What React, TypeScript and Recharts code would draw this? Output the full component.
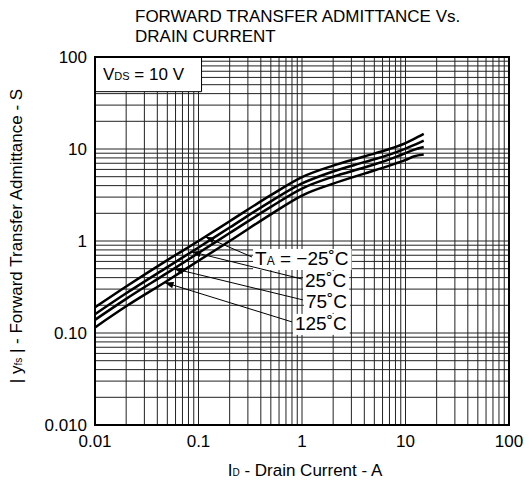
import React from 'react';
import {
  LineChart,
  Line,
  XAxis,
  YAxis,
  CartesianGrid,
  ReferenceArea,
  ReferenceLine,
} from 'recharts';

const FONT = '"Liberation Sans", Arial, Helvetica, sans-serif';

// Drain current (A) and |yfs| (S)
const drainCurrent = [0.01, 0.02, 0.05, 0.1, 0.2, 0.5, 1, 2, 4, 7, 10, 12, 15];
const yfsMinus25 = [0.19, 0.32, 0.62, 1.0, 1.64, 3.15, 4.95, 6.6, 8.3, 10.0, 11.6, 12.8, 14.6];
const yfs25 = [0.16, 0.27, 0.52, 0.85, 1.4, 2.7, 4.22, 5.7, 7.2, 8.7, 10.1, 11.0, 12.3];
const yfs75 = [0.139, 0.235, 0.45, 0.74, 1.22, 2.35, 3.72, 5.0, 6.3, 7.7, 9.0, 9.8, 10.5];
const yfs125 = [0.115, 0.195, 0.37, 0.61, 1.0, 1.95, 3.12, 4.2, 5.4, 6.6, 7.6, 8.3, 8.7];

const decades = [0.01, 0.1, 1, 10, 100];
const xTickLabels = ['0.01', '0.1', '1', '10', '100'];
const yTickLabels = ['0.010', '0.10', '1', '10', '100'];

// temperature callouts: arrow tip on the curve (x), label end point
const callouts = [
  { key: 'm25', tipX: 0.116, endX: 0.329, endY: 0.67, text: ['T', 'A', ' = \u221225\u02daC'] },
  { key: 't25', tipX: 0.086, endX: 1.0, endY: 0.386, text: ['', '', '25\u02daC'] },
  { key: 't75', tipX: 0.058, endX: 1.02, endY: 0.229, text: ['', '', '75\u02daC'] },
  { key: 't125', tipX: 0.047, endX: 0.8, endY: 0.132, text: ['', '', '125\u02daC'] },
];

const series = [
  { key: 'm25', values: yfsMinus25 },
  { key: 't25', values: yfs25 },
  { key: 't75', values: yfs75 },
  { key: 't125', values: yfs125 },
];

const table = drainCurrent.map((id, i) => {
  const row: Record<string, number> = { id };
  series.forEach((s) => (row[s.key] = s.values[i]));
  return row;
});

// minor log ticks 1..9 in every decade
const logTicks = decades
  .slice(0, -1)
  .flatMap((d) => [1, 2, 3, 4, 5, 6, 7, 8, 9].map((k) => +(d * k).toPrecision(3)))
  .concat([100]);

const decadeLabel = (labels: string[]) => (v: number) => {
  const i = decades.findIndex((d) => Math.abs(d - v) / d < 1e-6);
  return i >= 0 ? labels[i] : '';
};

// log-log interpolation on a curve to put the arrow tip on it
const onCurve = (values: number[], x: number) => {
  for (let i = 0; i < drainCurrent.length - 1; i++) {
    const a = drainCurrent[i];
    const b = drainCurrent[i + 1];
    if (x >= a && x <= b) {
      const t = (Math.log10(x) - Math.log10(a)) / (Math.log10(b) - Math.log10(a));
      return 10 ** (Math.log10(values[i]) + t * (Math.log10(values[i + 1]) - Math.log10(values[i])));
    }
  }
  return values[0];
};

let ctx: CanvasRenderingContext2D | null = null;
const textWidth = (s: string, size: number) => {
  if (!ctx) ctx = document.createElement('canvas').getContext('2d');
  if (!ctx) return s.length * size * 0.55;
  ctx.font = `${size}px "Liberation Sans", Arial`;
  return ctx.measureText(s).width;
};

const Callout = (props: any) => {
  const { x1, y1, x2, y2, text } = props;
  const ang = Math.atan2(y1 - y2, x1 - x2);
  const len = 9;
  const hw = 3.2;
  const bx = x1 - len * Math.cos(ang);
  const by = y1 - len * Math.sin(ang);
  const px = -Math.sin(ang) * hw;
  const py = Math.cos(ang) * hw;
  const w = textWidth(text[0], 19) + textWidth(text[1], 12) + textWidth(text[2], 19);
  const tx = x2 + 3;
  const ty = y2 + 8;
  return (
    <g>
      <rect x={tx - 2} y={ty - 16} width={w + 5} height={21} fill="#fff" />
      <line x1={x1} y1={y1} x2={x2} y2={y2} stroke="#000" strokeWidth={1} />
      <polygon points={`${x1},${y1} ${bx + px},${by + py} ${bx - px},${by - py}`} fill="#000" />
      <text x={tx} y={ty} fontSize={19} fontFamily={FONT} fill="#000">
        {text[0]}
        {text[1] && <tspan fontSize={12}>{text[1]}</tspan>}
        <tspan>{text[2]}</tspan>
      </text>
    </g>
  );
};

const VdsLabel = (props: any) => {
  const { x, y, height } = props.viewBox;
  return (
    <text x={x + 8} y={y + height / 2 + 6} fontSize={17} fontFamily={FONT} fill="#000">
      V<tspan fontSize={11}>DS</tspan>
      <tspan> = 10 V</tspan>
    </text>
  );
};

const XTitle = (props: any) => {
  const { x, y, width } = props.viewBox;
  return (
    <text x={x + width / 2 + 3} y={y + 51} textAnchor="middle" fontSize={17} fontFamily={FONT} fill="#000">
      I<tspan fontSize={10}>D</tspan>
      <tspan> - Drain Current - A</tspan>
    </text>
  );
};

const YTitle = (props: any) => {
  const { y, height } = props.viewBox;
  const cx = 22;
  const cy = y + height / 2 - 5;
  return (
    <text
      x={cx}
      y={cy}
      transform={`rotate(-90 ${cx} ${cy})`}
      textAnchor="middle"
      fontSize={17}
      fontFamily={FONT}
      fill="#000"
    >
      | y<tspan fontSize={10}>fs</tspan>
      <tspan> | - Forward Transfer Admittance - S</tspan>
    </text>
  );
};

const App = () => {
  return (
    <div style={{ position: 'absolute', left: 0, top: 0, width: 532, height: 491, fontFamily: FONT }}>
      <div style={{ position: 'absolute', left: 135, top: 7, fontSize: 17, lineHeight: '20px', color: '#000' }}>
        FORWARD TRANSFER ADMITTANCE Vs.
        <br />
        DRAIN CURRENT
      </div>
      <LineChart width={532} height={491} data={table} margin={{ top: 57, right: 23, bottom: 0, left: 0 }}>
        <CartesianGrid stroke="#222" strokeWidth={1} />
        <XAxis
          dataKey="id"
          type="number"
          scale="log"
          domain={[0.01, 100]}
          ticks={logTicks}
          interval={0}
          tickFormatter={decadeLabel(xTickLabels)}
          tickLine={false}
          axisLine={false}
          tickMargin={4}
          height={66}
          tick={{ fill: '#000', fontSize: 17, fontFamily: FONT }}
          allowDataOverflow
          label={<XTitle />}
        />
        <YAxis
          type="number"
          scale="log"
          domain={[0.01, 100]}
          ticks={logTicks}
          interval={0}
          tickFormatter={decadeLabel(yTickLabels)}
          tickLine={false}
          axisLine={false}
          width={95}
          tick={{ fill: '#000', fontSize: 17, fontFamily: FONT }}
          allowDataOverflow
          label={<YTitle />}
        />
        <ReferenceArea
          x1={0.01}
          x2={0.107}
          y1={42}
          y2={100}
          fill="#fff"
          fillOpacity={1}
          stroke="#000"
          strokeWidth={1}
          label={<VdsLabel />}
        />
        {callouts.map((c) => {
          const s = series.find((q) => q.key === c.key)!;
          return (
            <ReferenceLine
              key={c.key}
              segment={[
                { x: c.tipX, y: onCurve(s.values, c.tipX) },
                { x: c.endX, y: c.endY },
              ]}
              shape={(p: any) => <Callout {...p} text={c.text} />}
            />
          );
        })}
        {series.map((s) => (
          <Line
            key={s.key}
            dataKey={s.key}
            type="monotone"
            stroke="#000"
            strokeWidth={2.5}
            dot={false}
            isAnimationActive={false}
          />
        ))}
        <ReferenceArea x1={0.01} x2={100} y1={0.01} y2={100} fill="none" stroke="#000" strokeWidth={2} />
      </LineChart>
    </div>
  );
};

export default App;
